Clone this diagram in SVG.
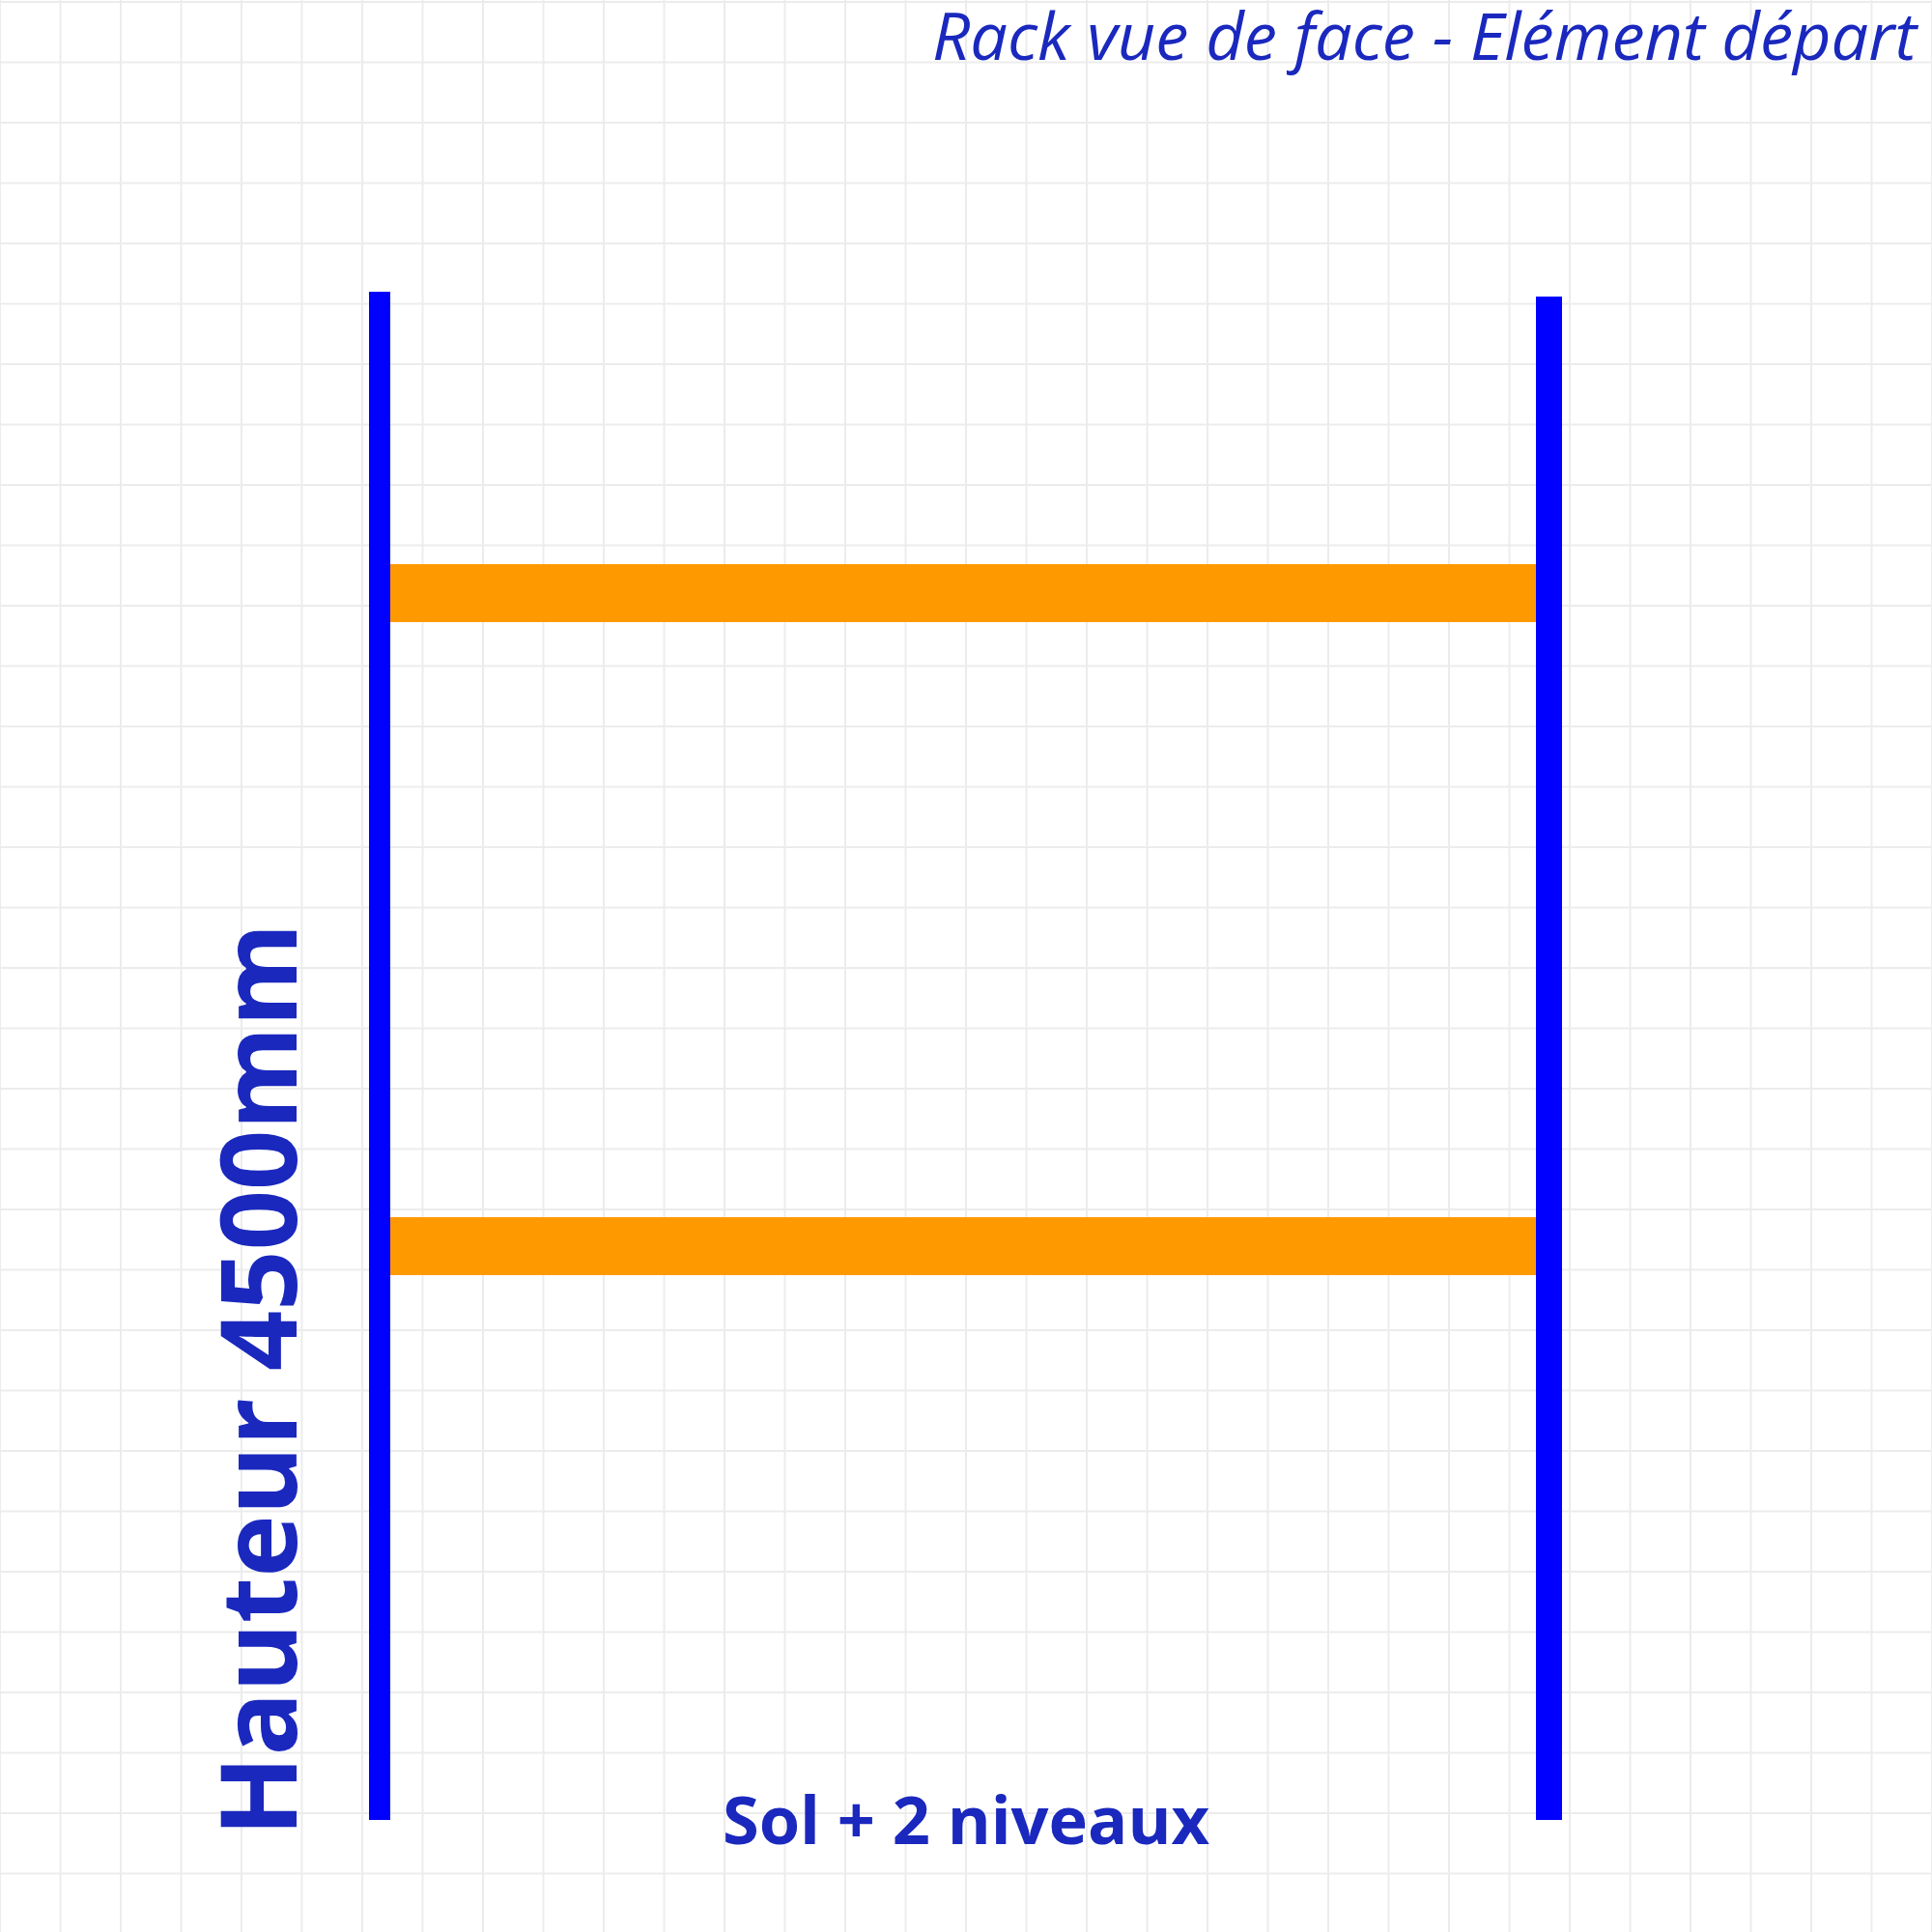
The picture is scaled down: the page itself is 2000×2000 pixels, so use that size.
<svg xmlns="http://www.w3.org/2000/svg" width="2000" height="2000" viewBox="0 0 2000 2000">
<defs>
<style>
.grid{stroke:#ececec;stroke-width:2;fill:none}
.post{fill:#0000ff}
.beam{fill:#ff9900}
.lbl{fill:#1a28be;font-family:"Open Sans","Liberation Sans",sans-serif}
</style>
<pattern id="g" x="0" y="2" width="62.5" height="62.5" patternUnits="userSpaceOnUse">
<path d="M62.5 0V62.5M0 62.5H62.5M0 0V62.5M0 0H62.5" class="grid"/>
</pattern>
</defs>
<rect width="2000" height="2000" fill="#ffffff"/>
<rect width="2000" height="2000" fill="url(#g)"/>
<g id="beams">
<rect id="beam-top" class="beam" x="403" y="584" width="1188" height="60"/>
<rect id="beam-bottom" class="beam" x="403" y="1260" width="1188" height="60"/>
</g>
<g id="post-left"><rect class="post" x="382" y="302" width="22" height="1582"/></g>
<g id="post-right"><rect class="post" x="1590" y="307" width="27" height="1577"/></g>
<g id="title"><text class="lbl" x="1984" y="62" font-size="68.5" font-style="italic" text-anchor="end">Rack vue de face - Elément départ</text></g>
<g id="height-label"><text class="lbl" transform="translate(307,1901) rotate(-90)" font-size="109" font-weight="bold">Hauteur 4500mm</text></g>
<g id="levels-label"><text class="lbl" x="1000" y="1909" font-size="68.5" font-weight="bold" text-anchor="middle">Sol + 2 niveaux</text></g>
</svg>
